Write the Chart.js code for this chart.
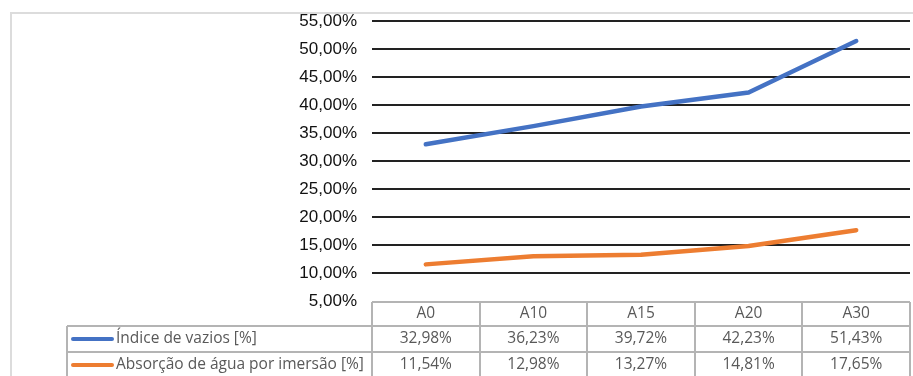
<!DOCTYPE html>
<html>
<head>
<meta charset="utf-8">
<script src="https://cdn.jsdelivr.net/npm/chart.js@4/dist/chart.umd.min.js"></script>
<style>
  html, body { margin: 0; padding: 0; background: #fff; }
  #wrap { position: relative; width: 913px; height: 376px; }
</style>
</head>
<body>
<div id="wrap"><canvas id="vaziosChart" width="913" height="376"></canvas></div>
<script>
const categories = ['A0', 'A10', 'A15', 'A20', 'A30'];
const indiceVazios = [32.98, 36.23, 39.72, 42.23, 51.43];
const absorcaoAgua = [11.54, 12.98, 13.27, 14.81, 17.65];
const seriesNames = ['Índice de vazios [%]', 'Absorção de água por imersão [%]'];
const yTicks = { min: 5, max: 55, step: 5 };

const pct = v => v.toFixed(2).replace('.', ',') + '%';

// outer frame and the data table under the plot
const tablePlugin = {
  id: 'dataTable',
  beforeDraw(chart) {
    const ctx = chart.ctx;
    ctx.save();
    ctx.strokeStyle = '#dcdcdc';
    ctx.lineWidth = 2;
    ctx.beginPath();
    ctx.moveTo(11, chart.height + 5);
    ctx.lineTo(11, 13);
    ctx.lineTo(chart.width + 5, 13);
    ctx.stroke();
    ctx.restore();
  },
  afterDraw(chart) {
    const ctx = chart.ctx;
    const x = chart.scales.x;
    const area = chart.chartArea;
    const colW = (area.right - area.left) / categories.length;
    const legendLeft = 67;
    const rowTops = [area.bottom + 1, area.bottom + 25, area.bottom + 51];
    const rowH = [24, 26, 26];
    const bottom = chart.height + 5;

    ctx.save();
    ctx.strokeStyle = '#b4b4b4';
    ctx.lineWidth = 2;
    ctx.beginPath();
    // horizontal rules
    ctx.moveTo(area.left, rowTops[0]);
    ctx.lineTo(area.right, rowTops[0]);
    ctx.moveTo(legendLeft, rowTops[1]);
    ctx.lineTo(area.right, rowTops[1]);
    ctx.moveTo(legendLeft, rowTops[2]);
    ctx.lineTo(area.right, rowTops[2]);
    // vertical rules
    ctx.moveTo(legendLeft, rowTops[1]);
    ctx.lineTo(legendLeft, bottom);
    for (let i = 0; i <= categories.length; i++) {
      const cx = Math.round(area.left + i * colW);
      ctx.moveTo(cx, rowTops[0]);
      ctx.lineTo(cx, bottom);
    }
    ctx.stroke();

    ctx.fillStyle = '#595959';
    ctx.font = '15.5px "Open Sans", Lato, sans-serif';
    ctx.textAlign = 'center';
    ctx.textBaseline = 'middle';
    categories.forEach((c, i) => {
      const cx = x.getPixelForValue(i);
      ctx.fillText(c, cx, rowTops[0] + rowH[0] / 2);
      ctx.fillText(pct(indiceVazios[i]), cx, rowTops[1] + rowH[1] / 2);
      ctx.fillText(pct(absorcaoAgua[i]), cx, rowTops[2] + rowH[2] / 2);
    });

    // legend keys inside the first column
    chart.data.datasets.forEach((ds, k) => {
      const cy = rowTops[k + 1] + rowH[k + 1] / 2;
      ctx.strokeStyle = ds.borderColor;
      ctx.lineWidth = 4;
      ctx.lineCap = 'round';
      ctx.beginPath();
      ctx.moveTo(73, cy);
      ctx.lineTo(112, cy);
      ctx.stroke();
      ctx.textAlign = 'left';
      ctx.fillText(ds.label, 116, cy);
    });
    ctx.restore();
  }
};

new Chart(document.getElementById('vaziosChart'), {
  type: 'line',
  data: {
    labels: categories,
    datasets: [{
      label: seriesNames[0],
      data: indiceVazios,
      borderColor: '#4472c4',
      borderWidth: 4.5
    }, {
      label: seriesNames[1],
      data: absorcaoAgua,
      borderColor: '#ed7d31',
      borderWidth: 4.5
    }]
  },
  options: {
    responsive: false,
    animation: false,
    layout: { padding: { top: 21, bottom: 75, right: 3, left: 0 } },
    elements: {
      point: { radius: 0 },
      line: { tension: 0, borderCapStyle: 'round', borderJoinStyle: 'round' }
    },
    plugins: { legend: { display: false }, tooltip: { enabled: false } },
    scales: {
      x: { display: false, offset: true },
      y: {
        min: yTicks.min,
        max: yTicks.max,
        afterFit(scale) {
          scale.width = 372;
          scale.paddingTop = 0;
          scale.paddingBottom = 0;
        },
        border: { display: false },
        grid: {
          drawTicks: false,
          lineWidth: 2,
          color: c => c.tick && c.tick.value === yTicks.min ? 'rgba(0,0,0,0)' : '#222'
        },
        ticks: {
          stepSize: yTicks.step,
          padding: 15,
          color: '#111',
          font: { family: '"Liberation Sans", Arial, sans-serif', size: 17 },
          callback: v => pct(v)
        }
      }
    }
  },
  plugins: [tablePlugin]
});
</script>
</body>
</html>
